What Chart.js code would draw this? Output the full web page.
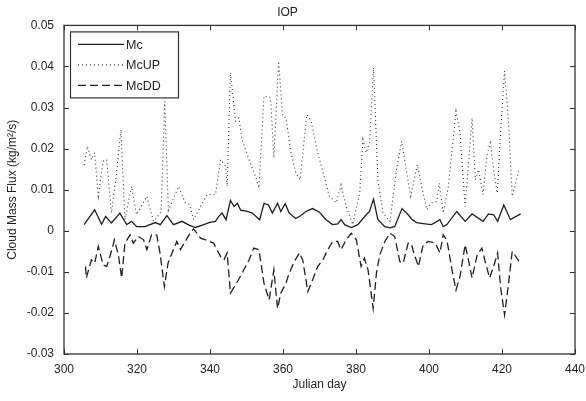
<!DOCTYPE html>
<html>
<head>
<meta charset="utf-8">
<script src="https://cdn.jsdelivr.net/npm/chart.js@4.4.1/dist/chart.umd.min.js"></script>
<style>
  html, body { margin: 0; padding: 0; background: #fff; }
  #wrap { width: 586px; height: 401px; }
</style>
</head>
<body>
<div id="wrap"><canvas id="grafico" width="586" height="401"></canvas></div>
<script>
// values
const mcDays = [305.5,308.4,310.3,311.4,313,315.3,317.2,318.5,319.9,322.2,325,326.4,328.2,330,332.3,334.4,336,338.3,339.7,341.5,342.4,343.3,344.4,345.6,346.6,347.5,348.4,350.2,351.6,353.6,354.8,356,357.1,358.5,359.4,360.6,361.7,363.5,364.7,366.3,368.1,370,371.8,373.6,375,375.9,376.9,378.7,380.5,382.8,383.7,384.8,386,387.9,389.3,390.6,392.6,394.3,395.3,396.6,398.9,400.7,403,403.9,404.9,407.6,409.9,411.8,414.8,416.3,417.7,418.8,420.5,422.3,425.1];
const mcVals = [0.0015,0.0051,0.0016,0.0035,0.0019,0.0043,0.0015,0.0023,0.001,0.001,0.002,0.0015,0.0037,0.0015,0.0023,0.0013,0.0008,0.0015,0.002,0.0023,0.0035,0.0043,0.0027,0.0074,0.0059,0.0067,0.005,0.0047,0.0043,0.0027,0.0067,0.0063,0.0043,0.0067,0.0047,0.0066,0.0043,0.003,0.0036,0.0047,0.0054,0.0045,0.0027,0.0015,0.0017,0.0027,0.0015,0.0008,0.0015,0.0039,0.0047,0.0077,0.0027,0.001,0.0007,0.001,0.0054,0.0039,0.0028,0.002,0.0017,0.0015,0.0027,0.001,0.0015,0.0047,0.0023,0.0041,0.0023,0.0041,0.0039,0.0023,0.0063,0.0027,0.0041];

const upDays = [305.5,306.4,307.5,308.4,309.4,310.7,311.7,313,314.4,315.6,316.7,318.5,319.9,322.7,324.5,326.6,327.6,328.6,331.4,333.2,334.4,335.5,337.4,339.2,341.5,342.9,344.3,344.7,345.6,347,347.9,348.8,350.7,352.5,353.4,354.8,356.6,357.5,358.8,359.9,360.8,362.2,363.5,364.7,366.5,367.7,369.5,371.3,372.7,374.6,375.9,377.3,379.1,381,381.9,382.8,383.7,384.8,386,387.4,389.3,391.1,392.5,393.9,395,396.8,398,399.4,400.7,402.1,402.8,403.9,405.3,407.4,408.5,409.9,411.8,412.7,413.6,414.8,415.9,416.8,417.7,418.7,419.6,420.7,421.8,422.8,424.6];
const upVals = [0.016,0.0206,0.0173,0.019,0.0084,0.0169,0.0173,0.0043,0.0141,0.0246,0.0027,0.0108,0.0039,0.0084,0.0023,0.0045,0.0315,0.0050,0.0108,0.0068,0.0064,0.0027,0.0059,0.0088,0.0088,0.0173,0.0157,0.0108,0.0385,0.0267,0.0275,0.0222,0.0173,0.0132,0.0104,0.0328,0.0324,0.0177,0.0413,0.0279,0.0275,0.019,0.0141,0.0124,0.0283,0.0267,0.019,0.0132,0.0084,0.0068,0.0112,0.0059,0.0015,0.0092,0.0222,0.019,0.0214,0.0397,0.0124,0.0043,0.0023,0.0149,0.0218,0.0141,0.0084,0.0161,0.0108,0.0051,0.0068,0.0071,0.0116,0.0043,0.0108,0.0291,0.0238,0.0059,0.0275,0.0124,0.0149,0.0088,0.0185,0.0214,0.0149,0.0092,0.0238,0.0389,0.0263,0.0084,0.0145];

const ddDays = [305.9,306.1,307.5,308.4,309.4,310.7,311.7,313,313.8,314.9,315.8,316.7,318.1,319,320.4,321.8,322.7,324,325.4,326.3,327.5,328.5,329.6,330.9,331.9,333.2,334.4,335.5,337.4,338.8,341,342.9,343.8,344.7,345.6,347,348.8,350.7,352,353.4,354.8,356.2,357.5,358.5,359.4,360.8,361.7,363.1,364.5,365.4,366.8,368.1,369.5,370.9,372.3,373.6,375,375.9,377.3,378.7,380.1,381.4,382.3,383.3,384.7,385.6,386.5,387.9,389.3,390.6,392,392.9,394.3,395.2,395.7,397.1,398.4,399.8,401.7,403,403.9,404.9,406.3,407.4,408.5,409.9,410.8,411.8,413.2,414.5,415.4,416.6,417.7,418.8,419.6,420.7,421.8,422.8,424.1,425.1];
const ddVals = [-0.0087,-0.0115,-0.0071,-0.0079,-0.0038,-0.0083,-0.0087,-0.005,-0.0022,-0.0059,-0.0115,-0.003,-0.001,-0.003,-0.0014,-0.0022,-0.0046,-0.001,-0.001,-0.0054,-0.0136,-0.0079,-0.0054,-0.0026,-0.0046,-0.0026,-0.0008,0.0005,-0.0018,-0.0022,-0.003,-0.0063,-0.0071,-0.0054,-0.0152,-0.0132,-0.0103,-0.0071,-0.0042,-0.0046,-0.0128,-0.0168,-0.0095,-0.0189,-0.0152,-0.0128,-0.0103,-0.0075,-0.0054,-0.0071,-0.0148,-0.012,-0.0087,-0.0071,-0.0046,-0.0026,-0.0026,-0.0046,-0.0022,-0.0006,-0.0022,-0.0087,-0.0067,-0.0095,-0.0189,-0.0103,-0.0059,-0.0026,-0.0006,-0.0014,-0.0075,-0.0079,-0.003,-0.0032,-0.005,-0.0087,-0.0034,-0.0026,-0.003,-0.0054,-0.001,-0.0022,-0.0095,-0.0144,-0.0111,-0.0034,-0.0071,-0.0115,-0.0059,-0.0042,-0.0075,-0.0115,-0.0087,-0.0054,-0.0136,-0.0205,-0.0128,-0.005,-0.0067,-0.0079];

const seriesNames = ["Mc", "McUP", "McDD"];
const xTicks = [300, 320, 340, 360, 380, 400, 420, 440];
const yTicks = [-0.03, -0.02, -0.01, 0, 0.01, 0.02, 0.03, 0.04, 0.05];

const pts = (days, vals) => days.map((d, i) => ({ x: d, y: vals[i] }));
const ink = "#1e1e1e";
const fontFam = "'Liberation Sans', Arial, sans-serif";

// box around the plot, ticks pointing inward, legend in the corner
const framePlugin = {
  id: "frame",
  afterDraw(chart) {
    const ctx = chart.ctx;
    const a = chart.chartArea;
    const xs = chart.scales.x, ys = chart.scales.y;
    ctx.save();
    ctx.strokeStyle = "#333";
    ctx.lineWidth = 1.3;
    ctx.strokeRect(a.left, a.top, a.right - a.left, a.bottom - a.top);
    ctx.lineWidth = 1;
    xTicks.forEach(t => {
      const p = Math.round(xs.getPixelForValue(t)) + 0.5;
      ctx.beginPath();
      ctx.moveTo(p, a.bottom); ctx.lineTo(p, a.bottom - 5);
      ctx.moveTo(p, a.top); ctx.lineTo(p, a.top + 5);
      ctx.stroke();
    });
    yTicks.forEach(t => {
      const p = Math.round(ys.getPixelForValue(t)) + 0.5;
      ctx.beginPath();
      ctx.moveTo(a.left, p); ctx.lineTo(a.left + 5, p);
      ctx.moveTo(a.right, p); ctx.lineTo(a.right - 5, p);
      ctx.stroke();
    });

    // legend
    const bx = a.left + 6, by = a.top + 6, bw = 108, bh = 66;
    ctx.fillStyle = "#fff";
    ctx.fillRect(bx, by, bw, bh);
    ctx.strokeStyle = "#333";
    ctx.lineWidth = 1.2;
    ctx.strokeRect(bx + 0.5, by + 0.5, bw, bh);
    ctx.font = "12.5px " + fontFam;
    ctx.textBaseline = "middle";
    chart.data.datasets.forEach((ds, i) => {
      const y = by + 13 + i * 20.5;
      ctx.strokeStyle = ds.borderColor;
      ctx.lineWidth = ds.borderWidth;
      ctx.setLineDash(ds.borderDash || []);
      ctx.beginPath();
      ctx.moveTo(bx + 8, y); ctx.lineTo(bx + 54, y);
      ctx.stroke();
      ctx.setLineDash([]);
      ctx.fillStyle = ink;
      ctx.fillText(ds.label, bx + 56, y + 1);
    });
    ctx.restore();
  }
};

new Chart(document.getElementById("grafico"), {
  type: "line",
  data: {
    datasets: [
      { label: seriesNames[0], data: pts(mcDays, mcVals), borderColor: ink, borderWidth: 1.3, pointRadius: 0, tension: 0 },
      { label: seriesNames[1], data: pts(upDays, upVals), borderColor: "#333", borderWidth: 1.1, borderDash: [1, 3], pointRadius: 0, tension: 0 },
      { label: seriesNames[2], data: pts(ddDays, ddVals), borderColor: ink, borderWidth: 1.3, borderDash: [8, 4], pointRadius: 0, tension: 0 }
    ]
  },
  options: {
    responsive: false,
    animation: false,
    layout: { padding: { left: 0, right: 11, top: 0, bottom: 0 } },
    plugins: {
      legend: { display: false },
      tooltip: { enabled: false },
      title: {
        display: true,
        text: "IOP",
        color: ink,
        font: { family: fontFam, size: 12, weight: "normal" },
        padding: { top: 5, bottom: 6 }
      }
    },
    scales: {
      x: {
        type: "linear",
        min: 300, max: 440,
        afterBuildTicks: s => { s.ticks = xTicks.map(v => ({ value: v })); },
        afterFit: s => { s.height = 47; },
        grid: { display: false },
        border: { display: false },
        ticks: { color: ink, font: { family: fontFam, size: 12 }, padding: 0, maxRotation: 0 },
        title: { display: true, text: "Julian day", color: ink, font: { family: fontFam, size: 12 }, padding: { top: 4, bottom: 9 } }
      },
      y: {
        type: "linear",
        min: -0.03, max: 0.05,
        afterBuildTicks: s => { s.ticks = yTicks.map(v => ({ value: v })); },
        afterFit: s => { s.width = 64; },
        grid: { display: false },
        border: { display: false },
        ticks: {
          color: ink, font: { family: fontFam, size: 12 }, padding: 2,
          callback: v => { const r = Math.round(v * 100) / 100; return r === 0 ? "0" : r.toFixed(2); }
        },
        title: { display: true, text: "Cloud Mass Flux (kg/m\u00b2/s)", color: ink, font: { family: fontFam, size: 12 }, padding: { top: 5, bottom: 0 } }
      }
    }
  },
  plugins: [framePlugin]
});
</script>
</body>
</html>
